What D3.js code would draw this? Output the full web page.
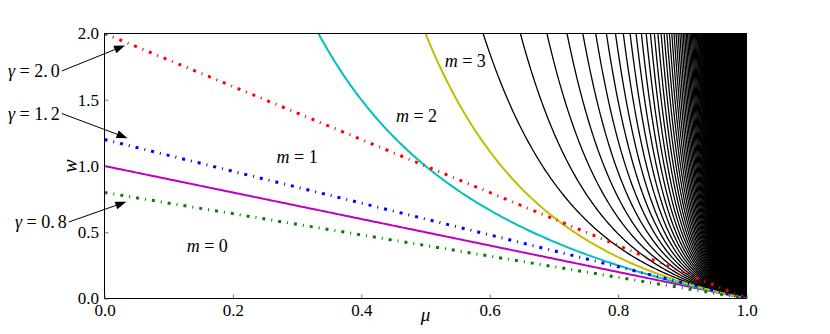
<!DOCTYPE html>
<html>
<head>
<meta charset="utf-8">
<script src="https://cdn.jsdelivr.net/npm/d3@7"></script>
<style>
  body { margin: 0; background: #fff; }
  svg { display: block; }
</style>
</head>
<body>
<div id="chart"></div>
<script>
// straight lines  w = gamma * (1 - mu)
const gammaValues = [2.0, 1.2, 0.8];
const gammaColors = ["#ff0000", "#0000ff", "#008000"];

// curves  w = (1 - mu) / mu^m
const colouredM = [0, 1, 2];
const colouredMColors = ["#bf00bf", "#00bfbf", "#bfbf00"];
const blackMFirst = 3;
const blackMLast = 2000;

const xTicks = [0, 0.2, 0.4, 0.6, 0.8, 1.0];
const yTicks = [0, 0.5, 1.0, 1.5, 2.0];

// region labels (value of m) and gamma annotations
const regionM = [0, 1, 2, 3];
const annotGamma = ["2.0", "1.2", "0.8"];

// layout only
const regionLabelPos = [[0.16, 0.353], [0.30, 1.02], [0.486, 1.335], [0.562, 1.75]];
const annotTextPos = [[8, 77], [8, 119.5], [15, 228]];       // px, text start / baseline
const annotHeadPos = [[0.032, 1.91], [0.036, 1.21], [0.034, 0.73]]; // data coords

const FONT = "Liberation Serif";
const W = 830, H = 334;
const x = d3.scaleLinear().domain([0, 1]).range([104.5, 746.5]);
const y = d3.scaleLinear().domain([0, 2]).range([298.5, 33.5]);

const svg = d3.select("#chart").append("svg")
    .attr("width", W)
    .attr("height", H);

svg.append("clipPath").attr("id", "plot-clip")
  .append("rect")
    .attr("x", x(0)).attr("y", y(2))
    .attr("width", x(1) - x(0)).attr("height", y(0) - y(2));

const plot = svg.append("g").attr("clip-path", "url(#plot-clip)");
const line = d3.line().x(d => x(d[0])).y(d => y(d[1]));

function wOf(m, mu) {
    return m === 0 ? 1 - mu : (1 - mu) / Math.pow(mu, m);
}

// visible part of a curve: from where it enters the top (w = 2) down to mu = 1
function curvePoints(m, n) {
    let lo = 0, hi = 1;
    if (wOf(m, 0) > 2) {
        for (let k = 0; k < 50; k++) {
            const mid = (lo + hi) / 2;
            if (wOf(m, mid) > 2) lo = mid; else hi = mid;
        }
    } else {
        hi = 0;
    }
    const mu0 = hi;
    return d3.range(n + 1).map(i => {
        const mu = mu0 + (1 - mu0) * i / n;
        return [mu, wOf(m, mu)];
    });
}

// black curves m = 3 ...
const blackG = plot.append("g")
    .attr("fill", "none")
    .attr("stroke", "#000")
    .attr("stroke-width", 1.3);
for (let m = blackMFirst; m <= blackMLast; m++) {
    blackG.append("path").attr("d", line(curvePoints(m, m < 40 ? 160 : 60)));
}

// coloured curves m = 0, 1, 2
colouredM.forEach((m, i) => {
    plot.append("path")
        .attr("d", line(curvePoints(m, 200)))
        .attr("fill", "none")
        .attr("stroke", colouredMColors[i])
        .attr("stroke-width", 2);
});

// dash-dot gamma lines
gammaValues.forEach((g, i) => {
    plot.append("path")
        .attr("d", line([[0, g], [1, 0]]))
        .attr("fill", "none")
        .attr("stroke", gammaColors[i])
        .attr("stroke-width", 3)
        .attr("stroke-dasharray", "3,6,1,6");
});

// frame
svg.append("rect")
    .attr("x", x(0)).attr("y", y(2))
    .attr("width", x(1) - x(0)).attr("height", y(0) - y(2))
    .attr("fill", "none").attr("stroke", "#000").attr("stroke-width", 1);

// axes with inward ticks
const fmt = d3.format(".1f");
const xAxis = svg.append("g")
    .attr("transform", "translate(0," + y(0) + ")")
    .call(d3.axisBottom(x).tickValues(xTicks).tickFormat(fmt)
        .tickSizeInner(-4).tickSizeOuter(0).tickPadding(5.5));
const yAxis = svg.append("g")
    .attr("transform", "translate(" + x(0) + ",0)")
    .call(d3.axisLeft(y).tickValues(yTicks).tickFormat(fmt)
        .tickSizeInner(-4).tickSizeOuter(0).tickPadding(5.5));

[xAxis, yAxis].forEach(a => {
    a.select(".domain").remove();
    a.attr("font-family", FONT).attr("font-size", 17);
    a.selectAll("text").attr("font-family", FONT).attr("font-size", 17).attr("fill", "#000");
    a.selectAll("line").attr("stroke", "#555").attr("stroke-width", 0.8);
});

// axis labels
svg.append("text")
    .attr("x", (x(0) + x(1)) / 2).attr("y", 321)
    .attr("text-anchor", "middle")
    .attr("font-family", FONT)
    .attr("font-size", 19).attr("font-style", "italic")
    .text("μ");
svg.append("text")
    .attr("transform", "translate(77," + (y(1)) + ") rotate(-90)")
    .attr("text-anchor", "middle")
    .attr("font-family", FONT)
    .attr("font-size", 20).attr("font-style", "italic")
    .text("w");

// region labels  m = k
regionM.forEach((m, i) => {
    const t = svg.append("text")
        .attr("x", x(regionLabelPos[i][0]))
        .attr("y", y(regionLabelPos[i][1]))
        .attr("text-anchor", "middle")
        .attr("font-family", FONT)
        .attr("font-size", 18);
    t.append("tspan").attr("font-style", "italic").text("m");
    t.append("tspan").text(" = " + m);
});

// gamma annotations with arrows
annotGamma.forEach((g, i) => {
    const [tx, ty] = annotTextPos[i];
    const parts = g.split(".");
    const t = svg.append("text")
        .attr("x", tx).attr("y", ty)
        .attr("font-family", FONT)
        .attr("font-size", 18);
    t.append("tspan").attr("font-style", "italic").text("γ");
    t.append("tspan").text(" = " + parts[0] + ".");
    t.append("tspan").attr("dx", 3).text(parts[1]);

    const bb = t.node().getBBox();
    const x0 = bb.x + bb.width + 2, y0 = ty - 6;
    const x1 = x(annotHeadPos[i][0]), y1 = y(annotHeadPos[i][1]);
    const ang = Math.atan2(y1 - y0, x1 - x0);
    const hl = 11, hw = 4;
    const bx = x1 - hl * Math.cos(ang), by = y1 - hl * Math.sin(ang);

    svg.append("line")
        .attr("x1", x0).attr("y1", y0).attr("x2", bx).attr("y2", by)
        .attr("stroke", "#000").attr("stroke-width", 1);
    svg.append("path")
        .attr("d", "M" + x1 + "," + y1
            + "L" + (bx - hw * Math.sin(ang)) + "," + (by + hw * Math.cos(ang))
            + "L" + (bx + hw * Math.sin(ang)) + "," + (by - hw * Math.cos(ang)) + "Z")
        .attr("fill", "#000");
});
</script>
</body>
</html>
